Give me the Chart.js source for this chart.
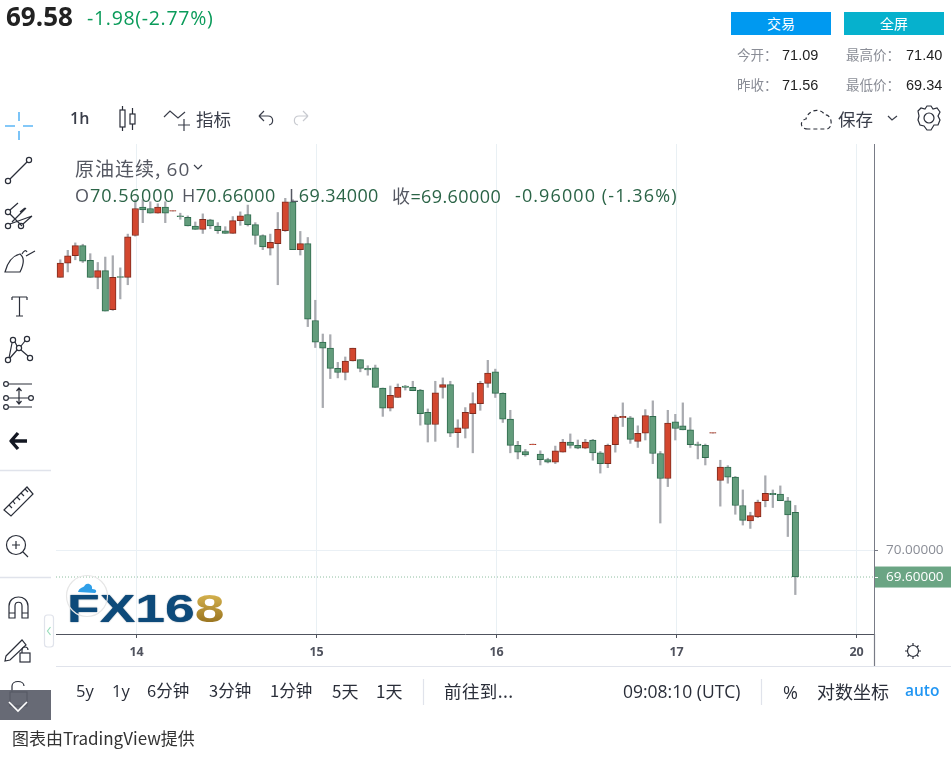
<!DOCTYPE html>
<html><head><meta charset="utf-8">
<script src="https://cdn.jsdelivr.net/npm/chart.js@4"></script>
<style>
html,body{margin:0;padding:0;background:#fff;width:951px;height:757px;overflow:hidden;font-family:"Noto Sans CJK SC","Noto Sans",sans-serif}
#c{position:absolute;left:0;top:0}
.t{position:absolute;white-space:nowrap;line-height:1;color:#2a2e39}
.g{color:#8a8d96}
.n{font-family:"Open Sans",sans-serif}
.o{font-size:18px;letter-spacing:.4px;top:186px;color:#555862}
.v{color:#2b6447}
.p{font-family:"Liberation Sans",sans-serif;font-size:14.5px;color:#222}
svg{position:absolute;left:0;top:0;pointer-events:none}
.btn{position:absolute;top:12px;width:100px;height:23px;line-height:23px;text-align:center;color:#fff;font-size:14px}
</style></head><body>
<canvas id="c" width="951" height="757" style="width:951px;height:757px"></canvas>

<div class="t n" style="left:6px;top:3px;font-size:26px;font-weight:700;color:#222">69.58</div>
<div class="t n" style="left:87px;top:8px;font-size:19.5px;letter-spacing:.7px;color:#0a9b5a">-1.98(-2.77%)</div>
<div class="btn" style="left:731px;background:#0099f0">交易</div>
<div class="btn" style="left:844px;background:#06b1cd">全屏</div>
<div class="t g" style="left:737px;top:48px;font-size:13.5px">今开：</div><div class="t p" style="left:782px;top:48px">71.09</div>
<div class="t g" style="left:846px;top:48px;font-size:13.5px">最高价：</div><div class="t p" style="left:906px;top:48px">71.40</div>
<div class="t g" style="left:737px;top:78px;font-size:13.5px">昨收：</div><div class="t p" style="left:782px;top:78px">71.56</div>
<div class="t g" style="left:846px;top:78px;font-size:13.5px">最低价：</div><div class="t p" style="left:906px;top:78px">69.34</div>

<div class="t n" style="left:70px;top:110px;font-size:16px;font-weight:600;color:#3a3e4a">1h</div>
<div class="t" style="left:196px;top:110px;font-size:17.5px;color:#3a3e4a">指标</div>
<div class="t" style="left:838px;top:110px;font-size:17.5px;color:#3a3e4a">保存</div>

<div class="t" style="left:75px;top:158px;font-size:19px;letter-spacing:1px;color:#555862">原油连续, <span class="n">60</span></div>
<div class="t n o" style="left:75px;letter-spacing:1px">O<span class="v">70.56000</span></div>
<div class="t n o" style="left:182px">H<span class="v">70.66000</span></div>
<div class="t n o" style="left:289px">L<span class="v">69.34000</span></div>
<div class="t n o v" style="left:392px"><span style="font-family:'Noto Sans CJK SC';color:#555862">收</span>=69.60000</div>
<div class="t n o v" style="left:515px;letter-spacing:1.1px">-0.96000 (-1.36%)</div>

<div class="t" style="left:67px;top:589px;font:700 39px/1 'Liberation Sans';color:#0d4a7a;transform:scaleX(1.37);transform-origin:0 0;text-shadow:0 0 1px #0b2f4f">FX16<span style="background:linear-gradient(180deg,#e4c25a,#8a6414);-webkit-background-clip:text;color:transparent;text-shadow:none">8</span></div>

<div class="t n" style="left:76px;top:683px;font-size:16.5px">5y</div>
<div class="t n" style="left:112px;top:683px;font-size:16.5px">1y</div>
<div class="t" style="left:147px;top:682px;font-size:16.5px">6分钟</div>
<div class="t" style="left:209px;top:682px;font-size:16.5px">3分钟</div>
<div class="t" style="left:270px;top:682px;font-size:16.5px">1分钟</div>
<div class="t" style="left:332px;top:682px;font-size:17px">5天</div>
<div class="t" style="left:376px;top:682px;font-size:17px">1天</div>
<div class="t" style="left:444px;top:682px;font-size:17.5px;letter-spacing:.4px">前往到...</div>
<div class="t n" style="left:623px;top:683px;font-size:17.5px">09:08:10 (UTC)</div>
<div class="t n" style="left:783px;top:683px;font-size:18px">%</div>
<div class="t" style="left:817px;top:682px;font-size:18px">对数坐标</div>
<div class="t n" style="left:905px;top:683px;font-size:15.5px;font-weight:600;color:#2196f3">auto</div>
<div class="t" style="left:12px;top:729px;font-size:17px;color:#333">图表由TradingView提供</div>

<svg width="951" height="757" viewBox="0 0 951 757" fill="none" stroke="#2a2e39" stroke-width="1.2">
 <path d="M56 666.5H951" stroke="#e0e3eb"/>
 <path d="M874.5 634V666" stroke="#787b86"/>
 <path d="M423.5 679V705M761.5 679V705" stroke="#e0e3eb"/>
 <path d="M0 470.5H51M0 577.5H51" stroke="#e0e3eb" stroke-width="1.5"/>
 <path d="M5 126H15M23 126H33M19 112V121M19 131V140" stroke="#5cb6f6" stroke-width="1.6"/>
 <circle cx="8" cy="181" r="2.6"/><circle cx="29" cy="160" r="2.6"/><path d="M10 179L27 162"/>
 <circle cx="8" cy="212" r="2.6"/><circle cx="8" cy="226" r="2.6"/><circle cx="21" cy="226" r="2.6"/>
 <path d="M10 210L18 203M10 214L22 226M10 224L32 216M23 224L32 216M12 222L26 208M20 212L25 208"/>
 <path d="M5 272H20C25 262 24 257 20 254C12 256 7 264 5 272Z"/><path d="M22 254C24 250 26 250 27 252M26 256L35 251"/>
 <path d="M12 297H27M12 297V300M27 297V300M19.5 297V316M16 316H23"/>
 <circle cx="8" cy="360" r="2.6"/><circle cx="13" cy="340" r="2.6"/><circle cx="27" cy="339" r="2.6"/><circle cx="30" cy="358" r="2.6"/><circle cx="19" cy="348" r="2.6"/>
 <path d="M9 358L12 343M15 342L17 346M25 341L21 346M21 350L28 356M17 350L10 358"/>
 <circle cx="6" cy="384" r="2.4"/><circle cx="6" cy="398" r="2.4"/><circle cx="31" cy="398" r="2.4"/><circle cx="6" cy="407" r="2.4"/>
 <path d="M9 384H32M9 398H28M9 407H32M19 388V403M16.5 391L19 388L21.5 391M16.5 401L19 404L21.5 401"/>
 <path d="M27 441H12M18 433L11 441L18 449" stroke="#131722" stroke-width="3.4" stroke-linejoin="round"/>
 <path d="M4 510L27 487L33 494L11 516Z"/><path d="M9 505L12 508M13 501L15 504M17 497L20 500M21 493L24 496M25 489L28 492"/>
 <circle cx="16" cy="545" r="9.5"/><path d="M12 545H20M16 541V549M23 552L28 557"/>
 <path d="M9 618V606C9 594 28 594 28 606V618H22V606C22 601 15 601 15 606V618Z"/><path d="M9 613H15M22 613H28"/>
 <path d="M6 656L22 640L26 645L10 660L5 661Z"/><rect x="20" y="653" width="10" height="9"/><path d="M22 653V650C22 646 28 646 28 650"/>
 <rect x="10" y="692" width="17" height="14"/><path d="M12 692V686C12 680 24 680 24 686"/>
 <rect x="44.5" y="615" width="9" height="32" rx="3" stroke="#e0e3eb" fill="#fff"/><path d="M50.5 627L47.5 631L50.5 635" stroke="#9db"/>
 <rect x="120" y="110" width="5" height="17" /><path d="M122.5 106V110M122.5 127V131M132.5 108V114M132.5 124V130"/><rect x="130" y="114" width="5" height="10"/>
 <path d="M164 117L170 111L178 118L185 112M184 119V131M178 125H190" stroke="#3a3e4a"/>
 <path d="M259 116L264 111M259 116L264 121M259 116H268C274 116 274 124 269 125" stroke="#3a3e4a"/>
 <path d="M308 116L303 111M308 116L303 121M308 116H299C293 116 293 124 298 125" stroke="#c8cad0"/>
 <path d="M808 129C799 129 800 120 806 119C808 110 820 107 825 115C832 114 834 129 826 129Z" stroke-dasharray="4 3"/>
 <path d="M888 116L892 120L897 116" stroke="#3a3e4a"/>
 <circle cx="929" cy="118" r="5" /><path d="M925 109L927 106H931L933 109L937 108L940 112L938 116L940 120L938 125L934 125L931 130H927L924 126L920 125L918 120L919 116L918 111L921 108Z"/>
 <path d="M194 165L198 169L202 165" stroke="#3a3e4a"/>
 <circle cx="913" cy="651" r="5.5"/><path d="M913 643V645M913 657V659M905 651H907M919 651H921M907.5 645.5L909 647M917 655L918.5 656.5M907.5 656.5L909 655M917 647L918.5 645.5"/>
 <circle cx="87" cy="596" r="20.5" stroke="#e6e6e6"/>
 <path d="M78 592C79 587 84 588 85 585C88 582 93 585 92 589C97 589 97 592 95 593Z" fill="#2f9fe8" stroke="none"/>
</svg>
<div class="btn" style="left:0;top:690px;width:51px;height:30px;background:rgba(90,93,105,.92)"></div>
<svg width="951" height="757" viewBox="0 0 951 757" fill="none"><path d="M9 702L18 711L27 702" stroke="#fff" stroke-width="1.6"/></svg>

<script>
const opens=[74.04,74.25,74.36,74.51,74.29,74.04,74.14,73.56,74.05,74.04,74.66,75.08,75.06,74.99,75.08,75.02,74.95,74.93,74.80,74.75,74.89,74.80,74.73,74.69,74.88,74.97,74.82,74.66,74.47,74.54,74.73,75.16,74.45,74.54,73.40,73.08,72.99,72.69,72.63,72.80,72.82,72.69,72.70,72.40,72.10,72.26,72.43,72.41,72.37,72.04,71.86,72.41,72.45,71.74,71.80,72.02,72.17,72.47,72.64,72.32,71.94,71.55,71.46,71.56,71.42,71.34,71.30,71.45,71.60,71.55,71.51,71.63,71.44,71.28,71.56,71.96,71.96,71.61,71.73,71.98,71.43,71.06,71.90,71.84,71.78,71.57,71.55,71.73,71.03,71.23,71.08,70.66,70.43,70.49,70.73,70.84,70.83,70.73,70.56];
const highs=[74.30,74.44,74.55,74.53,74.39,74.26,74.34,74.36,74.18,74.68,75.19,75.19,75.16,75.13,75.16,75.03,74.99,74.95,74.86,74.98,74.90,74.85,74.79,74.94,75.01,75.11,74.85,74.67,74.68,75.00,75.21,75.19,74.72,74.63,73.70,73.20,73.19,72.78,72.86,72.99,72.82,72.73,72.74,72.40,72.43,72.46,72.44,72.50,72.38,72.09,72.50,72.55,72.50,71.93,72.11,72.33,72.50,72.81,72.68,72.33,72.07,71.61,71.49,71.57,71.47,71.36,71.54,71.64,71.72,71.63,71.64,71.64,71.46,71.57,72.00,72.18,71.98,71.84,72.08,72.21,71.46,72.07,72.01,72.18,71.96,71.60,71.57,71.74,71.33,71.25,71.09,70.89,70.56,70.74,71.10,70.89,70.95,70.78,70.66];
const lows=[74.04,74.12,74.30,74.26,74.04,73.87,73.54,73.55,73.72,73.93,74.65,74.85,74.99,74.99,74.85,75.02,74.90,74.80,74.75,74.69,74.76,74.69,74.69,74.69,74.81,74.80,74.53,74.45,74.37,73.93,74.72,74.45,74.37,73.31,73.00,72.11,72.54,72.55,72.52,72.80,72.64,72.59,72.41,71.98,72.06,72.26,72.37,72.36,71.85,71.60,71.61,72.25,71.68,71.52,71.66,71.44,72.07,72.41,72.26,71.89,71.44,71.35,71.39,71.56,71.26,71.29,71.28,71.45,71.51,71.50,71.50,71.33,71.14,71.22,71.45,71.83,71.58,71.52,71.63,71.28,70.40,70.94,71.63,71.78,71.52,71.35,71.26,71.73,70.65,70.99,70.53,70.37,70.32,70.48,70.64,70.63,70.73,70.20,69.34];
const closes=[74.25,74.36,74.51,74.28,74.04,74.14,73.54,74.04,74.04,74.64,75.06,75.04,74.99,75.08,74.99,75.03,74.94,74.80,74.75,74.90,74.80,74.73,74.69,74.88,74.95,74.82,74.66,74.49,74.56,74.75,75.16,74.45,74.54,73.42,73.08,72.99,72.69,72.63,72.80,72.99,72.69,72.67,72.41,72.10,72.29,72.41,72.41,72.36,72.02,71.86,72.33,72.45,71.73,71.81,72.04,72.17,72.47,72.62,72.32,71.94,71.55,71.45,71.41,71.57,71.34,71.30,71.47,71.60,71.55,71.51,71.60,71.44,71.28,71.55,71.97,71.98,71.64,71.73,71.99,71.43,71.06,71.88,71.80,71.78,71.56,71.55,71.37,71.74,71.23,71.08,70.66,70.44,70.51,70.71,70.84,70.82,70.73,70.52,69.60];
const dayLabels=['14','15','16','17','20'];
const dayTickPositions=[10.17,34.17,58.17,82.17,106.17];
const priceTicks=[70,69.6];
const priceLabels=['70.00000','69.60000'];
const xMin=-0.57, xMax=108.49, yMin=68.756, yMax=76.015;

const lastPriceBox={id:'lastPriceBox',beforeDraw(ch){
  const y=ch.scales.y.getPixelForValue(closes[closes.length-1]);
  const c=ch.ctx;c.save();c.fillStyle='#6ba584';
  c.fillRect(ch.chartArea.right,y-10.5,ch.width-ch.chartArea.right,21);c.restore();
}};
const isUp=i=>closes[i]>=opens[i];
new Chart(document.getElementById('c'),{
  type:'bar',
  plugins:[lastPriceBox],
  data:{datasets:[
    {type:'line',order:3,data:[{x:xMin,y:closes[closes.length-1]},{x:xMax,y:closes[closes.length-1]}],
     borderColor:'#8dbd9f',borderWidth:1,borderDash:[1,2],pointRadius:0,tension:0},
    {order:2,grouped:false,barThickness:1.6,backgroundColor:'#a9abb0',borderWidth:0,
     data:highs.map((h,i)=>({x:i,y:[lows[i],h]}))},
    {order:1,grouped:false,barThickness:6.5,borderWidth:1,borderSkipped:false,
     backgroundColor:c=>isUp(c.dataIndex)?'#d3472f':'#629c7b',
     borderColor:c=>isUp(c.dataIndex)?'#7f2b1e':'#2e6a4c',
     data:opens.map((o,i)=>({x:i,y:[o,closes[i]]}))}
  ]},
  options:{
    responsive:false,animation:false,devicePixelRatio:1,
    layout:{padding:{left:56,top:144,right:0,bottom:91}},
    plugins:{legend:{display:false},tooltip:{enabled:false},title:{display:false}},
    scales:{
      x:{type:'linear',min:xMin,max:xMax,offset:false,
        afterBuildTicks(s){s.ticks=dayTickPositions.map(v=>({value:v}));},
        afterFit(s){s.height=32;},
        grid:{color:'#e9f0f4',lineWidth:1,tickColor:'#50535e',tickLength:4,offset:false},
        border:{display:true,color:'#50535e',width:1},
        ticks:{autoSkip:false,maxRotation:0,padding:7,color:'#50535e',font:{family:'"Open Sans"',size:12.5,weight:'700'},
          callback(v){const k=dayTickPositions.indexOf(v);return k<0?'':dayLabels[k];}}
      },
      y:{type:'linear',position:'right',min:yMin,max:yMax,
        afterBuildTicks(s){s.ticks=priceTicks.map(v=>({value:v}));},
        afterFit(s){s.width=77;},
        grid:{color:c=>c.tick&&c.tick.value===70?'#eaf0f5':'transparent',lineWidth:1,
              tickColor:c=>c.tick&&c.tick.value===70?'#787b86':'#ffffff',tickLength:4,drawOnChartArea:true},
        border:{display:true,color:'#787b86',width:1},
        ticks:{autoSkip:false,padding:8,font:{family:'"Open Sans"',size:13.5},
          color:c=>c.tick&&c.tick.value===70?'#8a8d96':'#ffffff',
          callback(v){const k=priceTicks.indexOf(v);return k<0?'':priceLabels[k];}}
      }
    }
  }
});
</script>
</body></html>
